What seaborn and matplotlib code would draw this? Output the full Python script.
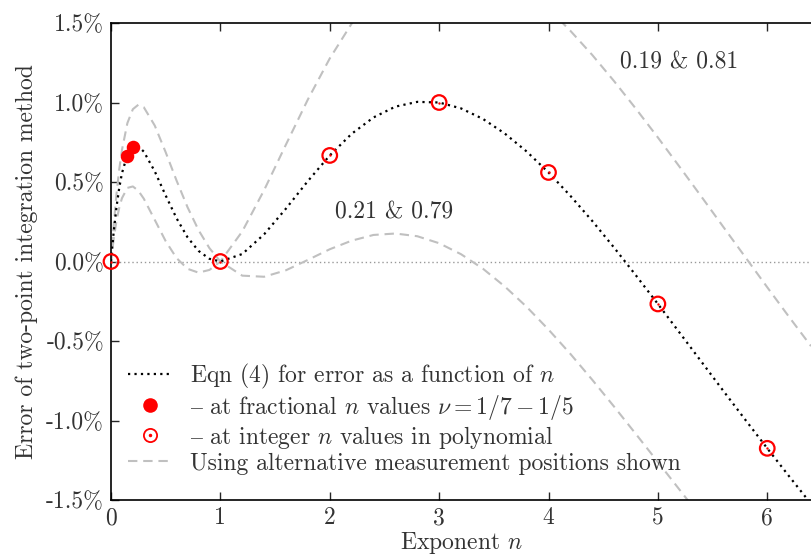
import numpy as np
import matplotlib
matplotlib.use('Agg')
import matplotlib.pyplot as plt
import seaborn as sns
from matplotlib.lines import Line2D
from matplotlib.ticker import FuncFormatter

# exponent grid and error (%) for each pair of positions
n_grid = [0, 0.025, 0.05, 0.075, 0.1, 0.15, 0.2, 0.25, 0.3, 0.4, 0.5, 0.6, 0.7, 0.8, 0.9, 1.0,
          1.2, 1.4, 1.6, 1.8, 2.0, 2.2, 2.4, 2.6, 2.8, 3.0, 3.2, 3.4, 3.6, 3.8, 4.0,
          4.2, 4.4, 4.6, 4.8, 5.0, 5.2, 5.4, 5.6, 5.8, 6.0, 6.2, 6.4]
err_eqn4 = [0, 0.189, 0.341, 0.462, 0.555, 0.673, 0.723, 0.724, 0.691, 0.567, 0.415, 0.271, 0.152, 0.067, 0.017, 0.0,
            0.047, 0.171, 0.333, 0.506, 0.667, 0.803, 0.906, 0.974, 1.004, 1.000, 0.963, 0.897, 0.805, 0.692, 0.560,
            0.413, 0.255, 0.087, -0.088, -0.267, -0.449, -0.632, -0.815, -0.996, -1.175, -1.351, -1.524]
err_021_079 = [0, 0.232, 0.423, 0.578, 0.701, 0.871, 0.958, 0.986, 0.970, 0.855, 0.687, 0.508, 0.341, 0.198, 0.084, 0.0,
               -0.089, -0.096, -0.055, 0.010, 0.077, 0.131, 0.167, 0.176, 0.159, 0.115, 0.046, -0.045, -0.157, -0.285, -0.428,
               -0.581, -0.744, -0.913, -1.086, -1.261, -1.437, -1.613, np.nan, np.nan, np.nan, np.nan, np.nan]
err_019_081 = [0, 0.143, 0.254, 0.337, 0.398, 0.463, 0.472, 0.445, 0.395, 0.262, 0.128, 0.021, -0.046, -0.070, -0.053, 0.0,
               0.189, 0.449, 0.736, 1.019, 1.277, 1.496, 1.670, np.nan, np.nan, np.nan, np.nan, np.nan, 1.804, 1.707, 1.589,
               1.451, 1.299, 1.134, 0.960, 0.780, 0.594, 0.406, 0.216, 0.027, -0.162, -0.349, -0.532]

n_int = [0, 1, 2, 3, 4, 5, 6]
err_int = [0.0, 0.0, 0.667, 1.000, 0.560, -0.267, -1.175]
n_frac = [0.1429, 0.2]
err_frac = [0.661, 0.723]

x_ticks = [0, 1, 2, 3, 4, 5, 6]
y_ticks = [-1.5, -1.0, -0.5, 0.0, 0.5, 1.0, 1.5]

sns.set_style('ticks')
plt.rcParams['font.family'] = ['cmr10', 'DejaVu Serif']
plt.rcParams['mathtext.fontset'] = 'cm'
plt.rcParams['axes.formatter.use_mathtext'] = True

text_col = '#333333'
fs = 17
dotted = (0, (1, 1.9))
dashed = (0, (4.5, 2.8))
grey = '#c0c0c0'

fig = plt.figure(figsize=(8.11, 5.57), dpi=100)
ax = fig.add_axes([111 / 811, 57 / 557, 700 / 811, 477 / 557])

ax.axhline(0, color='#999999', lw=1.0, ls=(0, (1, 2)), zorder=1)

sns.lineplot(x=n_grid, y=err_021_079, ax=ax, color=grey, lw=1.5, ls=dashed, estimator=None, sort=False, zorder=2)
sns.lineplot(x=n_grid, y=err_019_081, ax=ax, color=grey, lw=1.5, ls=dashed, estimator=None, sort=False, zorder=2)
sns.lineplot(x=n_grid, y=err_eqn4, ax=ax, color='black', lw=1.6, ls=dotted, estimator=None, sort=False, zorder=3)

sns.scatterplot(x=n_frac, y=err_frac, ax=ax, color='red', s=95, linewidth=0, zorder=5, clip_on=False)
sns.scatterplot(x=n_int, y=err_int, ax=ax, s=110, facecolor='none', edgecolor='red', linewidth=1.6,
                zorder=5, clip_on=False)
sns.scatterplot(x=n_int, y=err_int, ax=ax, color='red', s=3, linewidth=0, zorder=6, clip_on=False)

ax.text(2.59, 0.31, '0.21 & 0.79', fontsize=fs, color=text_col, ha='center', va='center')
ax.text(5.19, 1.25, '0.19 & 0.81', fontsize=fs, color=text_col, ha='center', va='center')

ax.set_xlim(0, 6.4)
ax.set_ylim(-1.5, 1.5)
ax.set_xticks(x_ticks)
ax.set_xticklabels([str(t) for t in x_ticks])
ax.set_yticks(y_ticks)
ax.yaxis.set_major_formatter(FuncFormatter(lambda v, _: f'{v:.1f}%'))
ax.tick_params(direction='in', length=6, width=1, top=True, right=False,
               labelsize=fs, labelcolor=text_col, pad=5)
for side in ['left', 'bottom', 'top']:
    ax.spines[side].set_linewidth(1.2)
    ax.spines[side].set_color('black')
ax.spines['right'].set_visible(False)

ax.set_xlabel('Exponent $n$', fontsize=fs, color=text_col, labelpad=1)
ax.set_ylabel('Error of two-point integration method', fontsize=fs, color=text_col, labelpad=6)

handles = [
    Line2D([], [], color='black', lw=1.6, ls=dotted),
    Line2D([], [], color='red', marker='o', ls='none', markersize=10.5, markeredgewidth=0),
    (Line2D([], [], color='red', marker='o', ls='none', markersize=9.5, markerfacecolor='none', markeredgewidth=1.3),
     Line2D([], [], color='red', marker='o', ls='none', markersize=1.5)),
    Line2D([], [], color=grey, lw=1.5, ls=dashed),
]
labels = [
    'Eqn (4) for error as a function of $n$',
    '$–$ at fractional $n$ values $\\nu = 1/7 - 1/5$',
    '$–$ at integer $n$ values in polynomial',
    'Using alternative measurement positions shown',
]
leg = ax.legend(handles, labels, loc='upper left', bbox_to_anchor=(0.024, 0.29), frameon=False,
                fontsize=fs, handlelength=1.9, handletextpad=0.75, labelspacing=0.08,
                borderpad=0, borderaxespad=0)
for t in leg.get_texts():
    t.set_color(text_col)

fig.savefig('out.png', dpi=100)
